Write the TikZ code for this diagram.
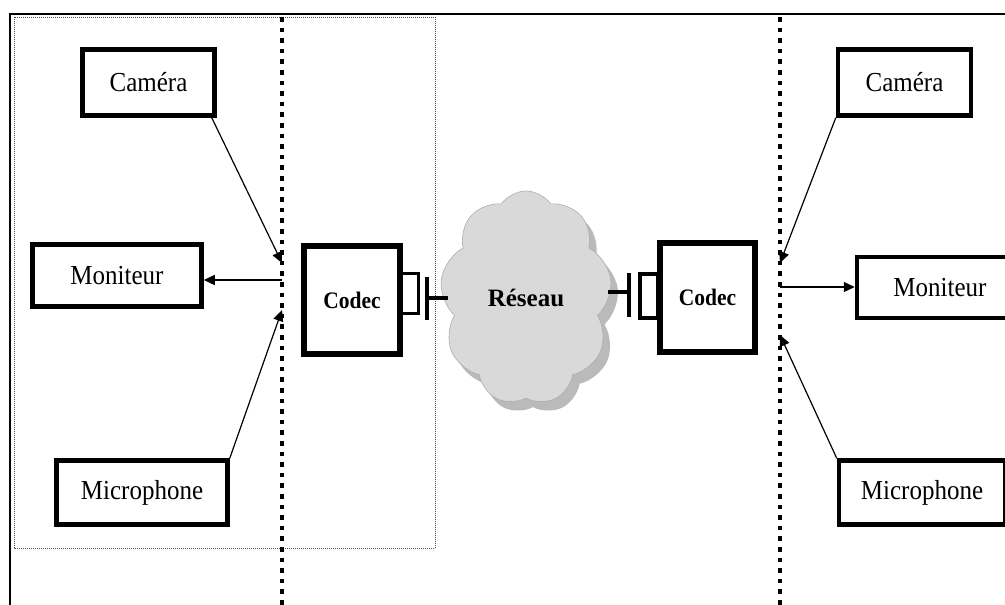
\documentclass[tikz,border=0pt]{standalone}
\usepackage{fontspec}
\setmainfont{Liberation Serif}
\usetikzlibrary{shapes.symbols,arrows.meta}

% box labels are set slightly taller than the font's own proportions
\newcommand{\tall}[1]{\scalebox{1}[1.1]{#1}}

\tikzset{
  device/.style={draw, line width=4.5pt, fill=white, inner sep=0pt,
    font=\fontsize{25}{30}\selectfont},
  codecbox/.style={draw, line width=5.5pt, fill=white, inner sep=0pt,
    font=\bfseries\fontsize{21.5}{25}\selectfont},
  portbox/.style={draw, line width=3.5pt, fill=white, inner sep=0pt},
  tbar/.style={line width=3.8pt},
  boundary/.style={line width=4.5pt, dash pattern=on 4.6pt off 6pt},
  zone/.style={line width=0.9pt, dash pattern=on 1pt off 1pt, black!70},
  arr/.style={line width=1.2pt, -{Triangle[length=11pt,width=10pt]}},
  netcloud/.style={cloud, cloud puffs=9, cloud puff arc=110, cloud ignores aspect,
    minimum width=172pt, minimum height=214pt, inner sep=0pt},
}

\begin{document}
\begin{tikzpicture}[x=1pt,y=-1pt]
  \useasboundingbox (0,0) rectangle (1005,605);
  \clip (0,0) rectangle (1005,605);

  % frame and local zone
  \draw[line width=2pt] (10,620) -- (10,14) -- (1020,14);
  \draw[zone] (14,17) rectangle (435,548);

  % boundaries of the two terminals
  \draw[boundary] (282,17) -- (282,610);
  \draw[boundary] (780,17) -- (780,610);

  % network cloud with its shadow
  \node[netcloud, fill=black!27, draw=none] (cloudshadow) at (533,307) {};
  \node[netcloud, fill=black!15, draw=black!32, line width=0.6pt,
        font=\bfseries\fontsize{25}{30}\selectfont] (cloud) at (526,298) {\raisebox{-7pt}{Réseau}};

  % left terminal
  \node[device, minimum width=132pt, minimum height=66pt] (camL) at (148.5,82.5) {\tall{Caméra}};
  \node[device, minimum width=169pt, minimum height=62pt] (monL) at (117,275.5) {\tall{Moniteur}};
  \node[device, minimum width=171pt, minimum height=64pt] (micL) at (142,492.5) {\tall{Microphone}};
  \node[portbox, minimum width=17pt, minimum height=40pt] (portL) at (410,293.5) {};
  \node[codecbox, minimum width=96pt, minimum height=108pt] (codecL) at (352,300) {\raisebox{-7pt}{\tall{Codec}}};

  \coordinate (bL1) at (282,263);
  \coordinate (bL2) at (282,280);
  \coordinate (bL3) at (282,310);
  \draw[arr] ([xshift=-5pt]camL.south east) -- (bL1);
  \draw[arr] (bL2) -- (bL2 -| monL.east);
  \draw[arr] (micL.north east) -- (bL3);

  \coordinate (tL) at (427,298);
  \draw[tbar] (427,277) -- (427,320);
  \draw[tbar] (tL) -- (448,298);

  % right terminal
  \node[device, minimum width=133pt, minimum height=66pt] (camR) at (904.5,82.5) {\tall{Caméra}};
  \node[device, minimum width=166pt, minimum height=61pt] (monR) at (940,287.5) {\tall{Moniteur}};
  \node[device, minimum width=166pt, minimum height=64pt] (micR) at (922,492.5) {\tall{Microphone}};
  \node[portbox, minimum width=18pt, minimum height=44pt] (portR) at (649,296) {};
  \node[codecbox, minimum width=95pt, minimum height=109pt] (codecR) at (707.5,297.5) {\raisebox{-7pt}{\tall{Codec}}};

  \coordinate (bR1) at (780,263);
  \coordinate (bR2) at (780,287);
  \coordinate (bR3) at (780,335);
  \draw[arr] (camR.south west) -- (bR1);
  \draw[arr] (bR2) -- (bR2 -| monR.west);
  \draw[arr] (micR.north west) -- (bR3);

  \coordinate (tR) at (629,292);
  \draw[tbar] (629,273) -- (629,317);
  \draw[tbar] (608,292) -- (tR);
\end{tikzpicture}
\end{document}
